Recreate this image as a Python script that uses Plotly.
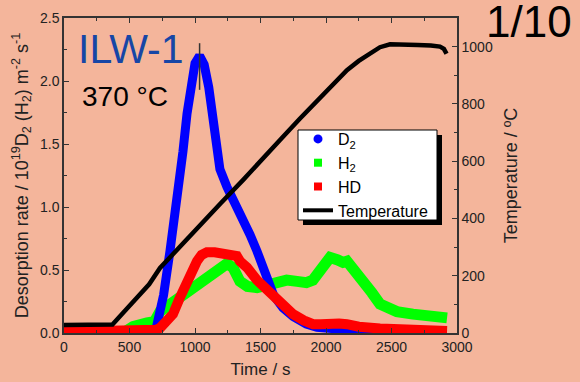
import plotly.graph_objects as go

# ---- data ----
d2_time = [0, 300, 600, 700, 730, 760, 809, 850, 886, 908, 939, 970, 1000, 1035, 1070, 1105,
           1137, 1160, 1190, 1244, 1300, 1366, 1420, 1473, 1550, 1600, 1672, 1750, 1850, 1931,
           2050, 2150, 2300, 2450, 2600, 2750, 2920]
d2_rate = [0.0, 0.0, 0.005, 0.02, 0.15, 0.3, 0.65, 0.95, 1.23, 1.44, 1.74, 1.98, 2.14, 2.2, 2.13, 1.95,
           1.72, 1.45, 1.3, 1.16, 1.05, 0.91, 0.78, 0.65, 0.41, 0.3, 0.2, 0.13, 0.07, 0.045,
           0.035, 0.03, 0.015, 0.008, 0.003, 0.0, 0.0]

h2_time = [0, 200, 350, 405, 450, 527, 634, 690, 733, 800, 850, 939, 1000, 1090, 1150, 1200, 1244,
           1290, 1343, 1400, 1473, 1550, 1626, 1700, 1779, 1850, 1900, 1977, 2031, 2090, 2130, 2160,
           2220, 2282, 2350, 2412, 2480, 2541, 2664, 2800, 2924]
h2_rate = [0.0, 0.0, 0.0, -0.03, 0.0, 0.05, 0.08, 0.09, 0.17, 0.22, 0.25, 0.31, 0.36, 0.44, 0.48, 0.53, 0.55,
           0.52, 0.41, 0.37, 0.36, 0.38, 0.41, 0.42, 0.41, 0.40, 0.42, 0.52, 0.60, 0.58, 0.56, 0.57,
           0.50, 0.41, 0.32, 0.23, 0.19, 0.17, 0.15, 0.14, 0.12]

hd_time = [0, 300, 600, 700, 733, 780, 832, 880, 939, 980, 1015, 1050, 1090, 1150, 1200, 1250, 1290,
           1320, 1343, 1397, 1473, 1550, 1626, 1700, 1748, 1830, 1901, 1960, 2031, 2100, 2160, 2250,
           2412, 2550, 2700, 2924]
hd_rate = [0.01, 0.01, 0.015, 0.025, 0.04, 0.09, 0.15, 0.27, 0.41, 0.5, 0.57, 0.62, 0.64, 0.64, 0.63, 0.63, 0.63,
           0.61, 0.57, 0.52, 0.42, 0.34, 0.26, 0.2, 0.15, 0.1, 0.07, 0.07, 0.08, 0.075, 0.07, 0.05,
           0.035, 0.025, 0.02, 0.015]

temp_time = [0, 200, 370, 450, 550, 650, 733, 850, 1000, 1200, 1366, 1500, 1649, 1800, 2000, 2160,
             2250, 2350, 2412, 2489, 2600, 2700, 2800, 2870, 2900, 2920]
temp_val = [28, 28, 30, 70, 120, 170, 227, 285, 358, 455, 534, 602, 674, 748, 845, 918,
            950, 982, 998, 1008, 1008, 1006, 1004, 1000, 992, 975]

x_ticks = [0, 500, 1000, 1500, 2000, 2500, 3000]
y_ticks = [0.0, 0.5, 1.0, 1.5, 2.0, 2.5]
y2_ticks = [0, 200, 400, 600, 800, 1000]

BG = "#F4B59B"
FONT = "Liberation Sans, Arial, sans-serif"
AX = "#333333"

fig = go.Figure()
fig.add_trace(go.Scatter(x=h2_time, y=h2_rate, mode="lines", line=dict(color="#00FF00", width=11),
                         showlegend=False))
fig.add_trace(go.Scatter(x=d2_time, y=d2_rate, mode="lines", line=dict(color="#0000FF", width=9),
                         showlegend=False))
fig.add_trace(go.Scatter(x=hd_time, y=hd_rate, mode="lines", line=dict(color="#FF0000", width=10),
                         showlegend=False))
fig.add_trace(go.Scatter(x=temp_time, y=temp_val, mode="lines", line=dict(color="black", width=4.5),
                         yaxis="y2", showlegend=False))

# legend-only entries
fig.add_trace(go.Scatter(x=[None], y=[None], mode="markers", name="D<sub>2</sub>",
                         marker=dict(color="#0000FF", symbol="circle", size=9)))
fig.add_trace(go.Scatter(x=[None], y=[None], mode="markers", name="H<sub>2</sub>",
                         marker=dict(color="#00FF00", symbol="square", size=8)))
fig.add_trace(go.Scatter(x=[None], y=[None], mode="markers", name="HD",
                         marker=dict(color="#FF0000", symbol="square", size=8)))
fig.add_trace(go.Scatter(x=[None], y=[None], mode="lines", name="Temperature",
                         line=dict(color="black", width=4)))

# peak marker line
ipk = d2_rate.index(max(d2_rate))
t_pk = d2_time[ipk]
r_pk = d2_rate[ipk]
fig.add_shape(type="line", xref="x", yref="y", x0=t_pk, x1=t_pk, y0=r_pk - 0.27, y1=r_pk + 0.1,
              line=dict(color="#333333", width=1.5), layer="above")

W, H = 580, 382
L, R, T, B = 64, 123, 18, 49
pw, ph = W - L - R, H - T - B


def px(x):
    return (x - L) / pw


def py(y):
    return (H - B - y) / ph


# legend box with shadow
fig.add_shape(type="rect", xref="paper", yref="paper", x0=px(303), x1=px(442), y0=py(225), y1=py(135),
              fillcolor="black", line=dict(width=0), layer="above")
fig.add_shape(type="rect", xref="paper", yref="paper", x0=px(298), x1=px(437), y0=py(220), y1=py(130),
              fillcolor="white", line=dict(color="black", width=1), layer="above")

fig.add_annotation(text="ILW-1", xref="paper", yref="paper", x=px(76), y=py(49), xanchor="left",
                   yanchor="middle", showarrow=False, font=dict(family=FONT, size=41, color="#1646A6"))
fig.add_annotation(text="370 °C", xref="paper", yref="paper", x=px(80), y=py(96), xanchor="left",
                   yanchor="middle", showarrow=False, font=dict(family=FONT, size=28, color="black"))
fig.add_annotation(text="1/10", xref="paper", yref="paper", x=px(574), y=py(22), xanchor="right",
                   yanchor="middle", showarrow=False, font=dict(family=FONT, size=44, color="black"))

axis_common = dict(showline=True, linecolor=AX, linewidth=1.5, ticks="inside", ticklen=5,
                   tickcolor=AX, tickwidth=1.2, showgrid=False, zeroline=False,
                   tickfont=dict(family=FONT, size=14, color="#222222"))

fig.update_layout(
    width=W, height=H,
    margin=dict(l=L, r=R, t=T, b=B, autoexpand=False),
    paper_bgcolor=BG, plot_bgcolor=BG,
    font=dict(family=FONT, color="#222222"),
    xaxis=dict(range=[0, 3000], tickvals=x_ticks, mirror="ticks",
               minor=dict(ticks="inside", dtick=250, ticklen=3, tickcolor=AX),
               title=dict(text="Time / s", font=dict(family=FONT, size=17, color="#222222"), standoff=10),
               **axis_common),
    yaxis=dict(range=[0, 2.5], tickvals=y_ticks, tickformat=".1f",
               minor=dict(ticks="inside", dtick=0.25, ticklen=3, tickcolor=AX),
               title=dict(text="Desorption rate / 10<sup>19</sup>D<sub>2</sub> (H<sub>2</sub>) m<sup>-2</sup> s<sup>-1</sup>",
                          font=dict(family=FONT, size=18, color="#222222"), standoff=7),
               **axis_common),
    yaxis2=dict(range=[0, 1100], tickvals=y2_ticks, overlaying="y", side="right",
                minor=dict(ticks="inside", dtick=100, ticklen=3, tickcolor=AX),
                title=dict(text="Temperature / ºC", font=dict(family=FONT, size=18, color="#222222"), standoff=12),
                **axis_common),
    legend=dict(x=px(298), y=py(122), xanchor="left", yanchor="top", bgcolor="rgba(0,0,0,0)",
                borderwidth=0, font=dict(family=FONT, size=16, color="black"),
                tracegroupgap=0),
)

fig.write_html("out.html", config={"displayModeBar": False}, post_script=(
    "document.body.style.margin='0';document.body.style.padding='0';"
    "document.body.style.background='%s';document.documentElement.style.background='%s';" % (BG, BG)))
